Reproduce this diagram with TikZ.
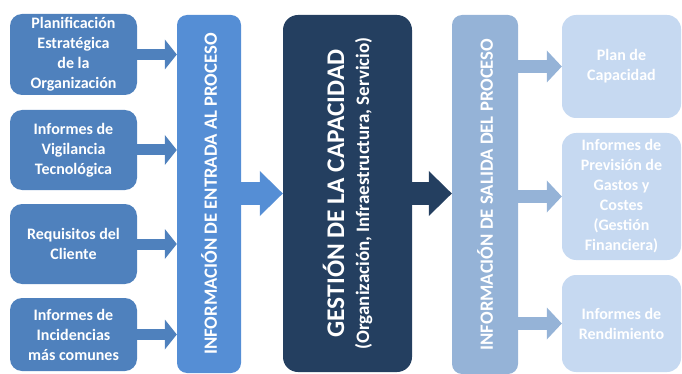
\documentclass[tikz,border=0pt]{standalone}
\usepackage{fontspec}
\setmainfont{Carlito}
\usetikzlibrary{arrows.meta}

\definecolor{inblue}{HTML}{4F81BD}
\definecolor{colblue}{HTML}{558ED5}
\definecolor{navy}{HTML}{243F60}
\definecolor{outblue}{HTML}{95B3D7}
\definecolor{paleblue}{HTML}{C6D9F1}

\tikzset{
    inbox/.style={rounded corners=12pt, fill=inblue, text=white, align=center,
        minimum width=127pt, inner sep=0pt, font=\bfseries\fontsize{16}{20}\selectfont},
    column/.style={rounded corners=10pt, text=white, inner sep=0pt,
        minimum width=65pt, minimum height=358pt, font=\bfseries\fontsize{18.7}{20}\selectfont},
    outbox/.style={rounded corners=14pt, fill=paleblue, text=white, align=center,
        minimum width=119pt, inner sep=0pt, font=\bfseries\fontsize{16}{20}\selectfont},
    inarrow/.style={line width=11pt, inblue, -{Triangle[length=12pt, width=30pt, line width=0pt]}},
    bigarrow/.style={line width=22pt, -{Triangle[length=23pt, width=45pt, line width=0pt]}},
    outarrow/.style={line width=13pt, outblue, -{Triangle[length=15pt, width=32pt, line width=0pt]}}
}

\begin{document}
\begin{tikzpicture}[x=1pt, y=-1pt]
    \useasboundingbox (0,0) rectangle (682,374);

    % Inputs
    \node[inbox, minimum height=81pt] (in1) at (73.5, 54.5) {Planificación\\Estratégica\\de la\\Organización};
    \node[inbox, minimum height=80pt] (in2) at (73.5, 150) {Informes de\\Vigilancia\\Tecnológica};
    \node[inbox, minimum height=80pt] (in3) at (73.5, 244) {Requisitos del\\Cliente};
    \node[inbox, minimum height=73pt] (in4) at (73.5, 334.5) {Informes de\\Incidencias\\más comunes};

    \node[column, fill=colblue, minimum width=64pt] (incol) at (209, 194)
        {\rotatebox{90}{INFORMACIÓN DE ENTRADA AL PROCESO}};
    \foreach \n in {in1,in2,in3,in4}
        \draw[inarrow] (\n.east) -- (\n.east -| incol.west);

    % Core
    \node[rounded corners=15pt, fill=navy, text=white, inner sep=0pt,
        minimum width=129pt, minimum height=357pt] (core) at (347.5, 193.5)
        {\rotatebox{90}{\parbox{340pt}{\centering\bfseries
            \fontsize{25.4}{25}\selectfont GESTIÓN DE LA CAPACIDAD\\
            \fontsize{19}{25}\selectfont (Organización, Infraestructura, Servicio)}}};
    \draw[bigarrow, colblue] (incol.east |- core.west) -- (core.west);

    % Outputs
    \node[column, fill=outblue, minimum width=66pt, minimum height=359pt] (outcol) at (485, 194.5)
        {\rotatebox{90}{INFORMACIÓN DE SALIDA DEL PROCESO}};
    \draw[bigarrow, navy] (core.east) -- (core.east -| outcol.west);

    \node[outbox, minimum height=103pt] (out1) at (621.5, 66.5) {Plan de\\Capacidad};
    \node[outbox, minimum height=127pt] (out2) at (621.5, 196.5)
        {Informes de\\Previsión de\\Gastos y\\Costes\\(Gestión\\Financiera)};
    \node[outbox, minimum height=97pt] (out3) at (621.5, 323.5) {Informes de\\Rendimiento};
    \foreach \n in {out1,out2,out3}
        \draw[outarrow] (\n.west -| outcol.east) -- (\n.west);
\end{tikzpicture}
\end{document}
